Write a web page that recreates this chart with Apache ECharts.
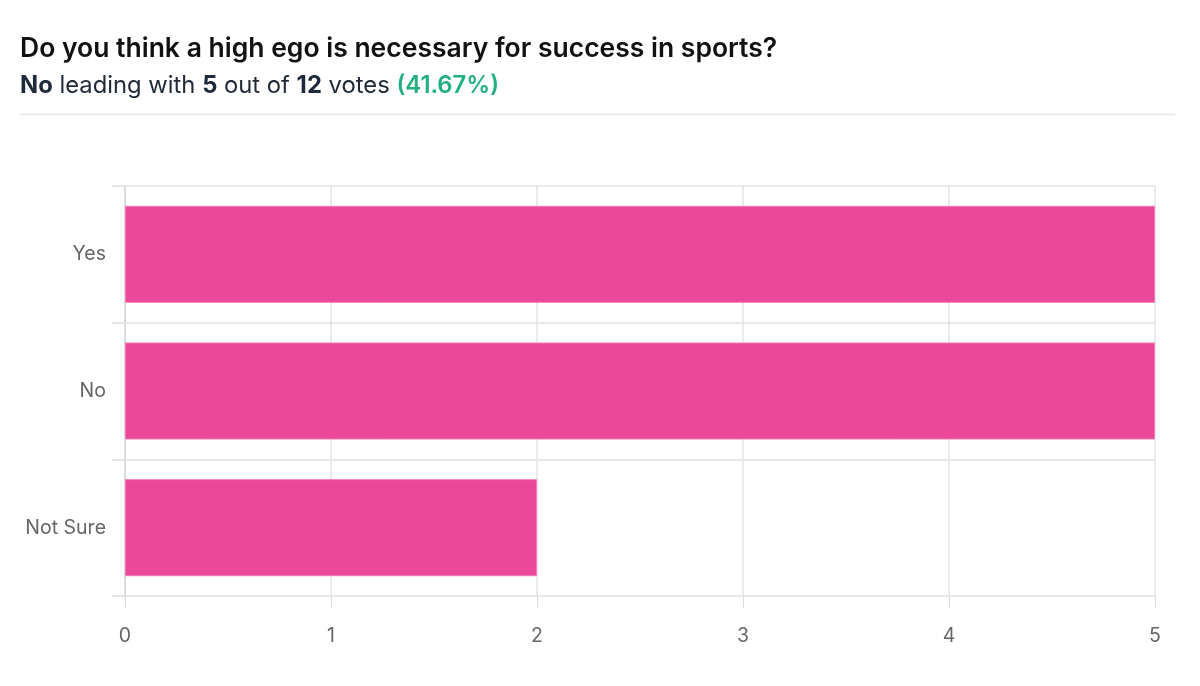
<!DOCTYPE html>
<html><head><meta charset="utf-8">
<script src="https://cdn.jsdelivr.net/npm/echarts@6/dist/echarts.min.js"></script>
<style>html,body{margin:0;padding:0;background:#fff}#c{width:1200px;height:686px}</style>
</head><body><div id="c"></div>
<script>
const categories = ['Yes', 'No', 'Not Sure'];
const votes = [5, 5, 2];
const xTicks = [0, 1, 2, 3, 4, 5];
const titleText = 'Do you think a high ego is necessary for success in sports?';
const leader = 'No', leaderVotes = 5, totalVotes = 12, leaderPct = '41.67%';

const chart = echarts.init(document.getElementById('c'), null, {renderer: 'canvas'});
const font = 'Inter, "Noto Sans", sans-serif';
chart.setOption({
  animation: false,
  textStyle: {fontFamily: font},
  title: {
    left: 15, top: 31,
    text: titleText,
    textStyle: {fontSize: 26.5, fontWeight: 600, color: '#111111', fontFamily: font},
    subtext: `{b|${leader}} leading with {b|${leaderVotes}} out of {b|${totalVotes}} votes {g|(${leaderPct})}`,
    itemGap: 11,
    subtextStyle: {
      fontSize: 23.8, color: '#1f2937', fontFamily: font,
      rich: {
        b: {fontSize: 23.8, fontWeight: 700, color: '#1e293b', fontFamily: font},
        g: {fontSize: 23.8, fontWeight: 600, color: '#22b07d', fontFamily: font}
      }
    }
  },
  graphic: [{type: 'line', shape: {x1: 20, y1: 114.5, x2: 1175, y2: 114.5}, style: {stroke: '#e5e7eb', lineWidth: 1.5}}],
  grid: {left: 125, right: 45, top: 186, bottom: 90, containLabel: false},
  xAxis: {
    type: 'value', min: 0, max: xTicks[xTicks.length - 1], interval: 1,
    axisLine: {show: false},
    axisTick: {show: true, length: 12, lineStyle: {color: '#dddddd'}},
    splitLine: {show: true, lineStyle: {color: '#e3e3e3', width: 1.5}},
    axisLabel: {margin: 30, fontSize: 19.5, color: '#666666', fontFamily: font}
  },
  yAxis: {
    type: 'category', data: categories, inverse: true,
    axisLine: {show: true, lineStyle: {color: '#d6d6d6', width: 1.5}},
    axisTick: {show: true, length: 13, lineStyle: {color: '#dddddd', width: 1.5}},
    splitLine: {show: true, lineStyle: {color: '#e3e3e3', width: 1.5}},
    axisLabel: {margin: 19, fontSize: 19.5, color: '#666666', fontFamily: font}
  },
  series: [{
    type: 'bar', data: votes, barCategoryGap: '29%',
    itemStyle: {color: '#ec4899', borderColor: '#f27ab5', borderWidth: 1}
  }]
});
</script></body></html>
